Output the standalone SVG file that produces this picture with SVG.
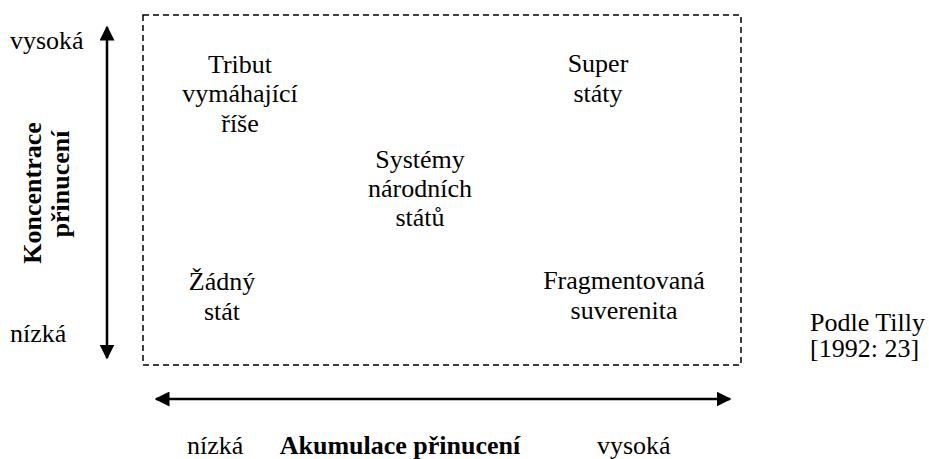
<svg xmlns="http://www.w3.org/2000/svg" width="929" height="459" viewBox="0 0 929 459">
<defs>
<marker id="ah" viewBox="0 0 10 10" refX="9" refY="5" markerWidth="6" markerHeight="6" markerUnits="strokeWidth" orient="auto-start-reverse">
<path d="M0,0 L10,5 L0,10 Z" fill="#000"/>
</marker>
</defs>
<rect width="929" height="459" fill="#fff"/>
<g id="frame">
<rect x="143" y="15" width="598" height="350" fill="none" stroke="#000" stroke-width="1.5" stroke-dasharray="6,4"/>
</g>
<g id="connectors" stroke="#000" stroke-width="2.5" fill="none">
<line x1="107" y1="27" x2="107" y2="358" marker-start="url(#ah)" marker-end="url(#ah)"/>
<line x1="156" y1="399" x2="730" y2="399" marker-start="url(#ah)" marker-end="url(#ah)"/>
</g>
<g id="y-axis-labels">
<text x="10" y="49" font-family="Liberation Serif" font-size="26" style="font-family:'Liberation Serif',serif">vysoká</text>
<text x="10" y="342" font-family="Liberation Serif" font-size="26" style="font-family:'Liberation Serif',serif">nízká</text>
<text font-family="Liberation Serif" font-size="26" font-weight="bold" text-anchor="middle" transform="translate(41,193) rotate(-90)" style="font-family:'Liberation Serif',serif">Koncentrace</text>
<text font-family="Liberation Serif" font-size="26" font-weight="bold" text-anchor="middle" transform="translate(69,184) rotate(-90)" style="font-family:'Liberation Serif',serif">přinucení</text>
</g>
<g id="x-axis-labels">
<text x="187" y="454" font-family="Liberation Serif" font-size="26" style="font-family:'Liberation Serif',serif">nízká</text>
<text x="400" y="454" font-family="Liberation Serif" font-size="26" font-weight="bold" text-anchor="middle" style="font-family:'Liberation Serif',serif">Akumulace přinucení</text>
<text x="597" y="454" font-family="Liberation Serif" font-size="26" style="font-family:'Liberation Serif',serif">vysoká</text>
</g>
<g id="tribut">
<text x="240" y="73" font-family="Liberation Serif" font-size="26" text-anchor="middle" style="font-family:'Liberation Serif',serif">Tribut</text>
<text x="240" y="102" font-family="Liberation Serif" font-size="26" text-anchor="middle" style="font-family:'Liberation Serif',serif">vymáhající</text>
<text x="240" y="132" font-family="Liberation Serif" font-size="26" text-anchor="middle" style="font-family:'Liberation Serif',serif">říše</text>
</g>
<g id="super">
<text x="598" y="72" font-family="Liberation Serif" font-size="26" text-anchor="middle" style="font-family:'Liberation Serif',serif">Super</text>
<text x="598" y="102" font-family="Liberation Serif" font-size="26" text-anchor="middle" style="font-family:'Liberation Serif',serif">státy</text>
</g>
<g id="systemy">
<text x="420" y="168" font-family="Liberation Serif" font-size="26" text-anchor="middle" style="font-family:'Liberation Serif',serif">Systémy</text>
<text x="420" y="197" font-family="Liberation Serif" font-size="26" text-anchor="middle" style="font-family:'Liberation Serif',serif">národních</text>
<text x="420" y="226" font-family="Liberation Serif" font-size="26" text-anchor="middle" style="font-family:'Liberation Serif',serif">států</text>
</g>
<g id="zadny">
<text x="222" y="290" font-family="Liberation Serif" font-size="26" text-anchor="middle" style="font-family:'Liberation Serif',serif">Žádný</text>
<text x="222" y="320" font-family="Liberation Serif" font-size="26" text-anchor="middle" style="font-family:'Liberation Serif',serif">stát</text>
</g>
<g id="fragmentovana">
<text x="624" y="289" font-family="Liberation Serif" font-size="26" text-anchor="middle" style="font-family:'Liberation Serif',serif">Fragmentovaná</text>
<text x="624" y="319" font-family="Liberation Serif" font-size="26" text-anchor="middle" style="font-family:'Liberation Serif',serif">suverenita</text>
</g>
<g id="source">
<text x="810" y="331" font-family="Liberation Serif" font-size="26" style="font-family:'Liberation Serif',serif">Podle Tilly</text>
<text x="810" y="357" font-family="Liberation Serif" font-size="26" style="font-family:'Liberation Serif',serif">[1992: 23]</text>
</g>
</svg>
